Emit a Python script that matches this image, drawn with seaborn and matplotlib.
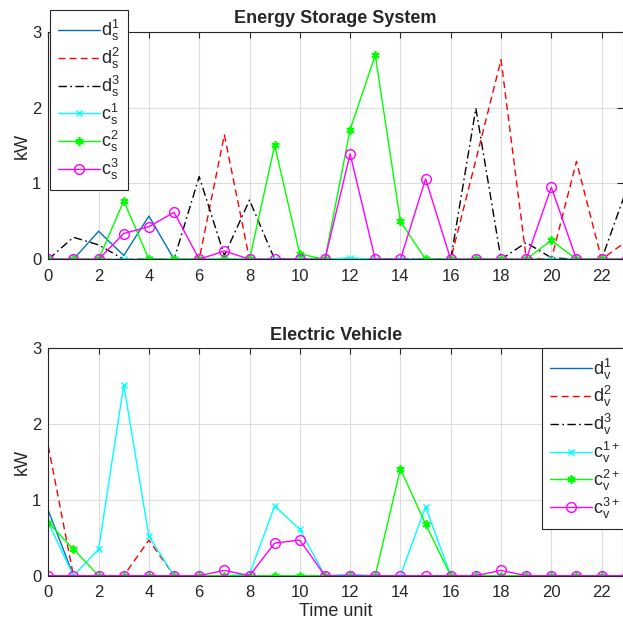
import numpy as np
import pandas as pd
import matplotlib
matplotlib.use("Agg")
import matplotlib.pyplot as plt
import seaborn as sns

# ---------------- data ----------------
t = list(range(24))

ds1 = [0, 0, 0.37, 0.05, 0.57, 0, 0, 0, 0, 0, 0, 0, 0, 0, 0, 0, 0, 0, 0, 0, 0, 0, 0, 0]
ds2 = [0, 0, 0, 0, 0, 0, 0, 1.64, 0, 0, 0, 0, 0, 0, 0, 0, 0, 1.31, 2.63, 0.02, 0, 1.29, 0, 0.24]
ds3 = [0, 0.29, 0.19, 0, 0, 0, 1.09, 0.05, 0.78, 0, 0, 0, 0, 0, 0, 0, 0, 1.99, 0, 0.22, 0.02, 0, 0, 0.93]
cs1 = [0, 0, 0, 0, 0, 0, 0, 0, 0, 0, 0, 0, 0.02, 0, 0, 0, 0, 0, 0, 0, 0, 0, 0, 0]
cs2 = [0, 0, 0, 0.77, 0, 0, 0, 0, 0, 1.50, 0.07, 0, 1.71, 2.69, 0.50, 0, 0, 0, 0, 0, 0.25, 0, 0, 0]
cs3 = [0, 0, 0, 0.34, 0.43, 0.62, 0, 0.11, 0, 0, 0, 0, 1.39, 0, 0, 1.06, 0, 0, 0, 0, 0.95, 0, 0, 0]

dv1 = [0.86, 0, 0, 0, 0, 0, 0, 0, 0, 0, 0, 0, 0, 0, 0, 0, 0, 0, 0, 0, 0, 0, 0, 0]
dv2 = [1.71, 0, 0, 0, 0.47, 0, 0, 0, 0, 0, 0, 0, 0, 0, 0, 0, 0, 0, 0, 0, 0, 0, 0, 0]
dv3 = [0, 0, 0, 0, 0, 0, 0, 0, 0, 0, 0, 0, 0, 0, 0, 0, 0, 0, 0, 0, 0, 0, 0, 0]
cv1 = [0.70, 0, 0.35, 2.52, 0.52, 0, 0, 0, 0.02, 0.92, 0.61, 0, 0.02, 0, 0, 0.91, 0, 0, 0, 0, 0, 0, 0, 0]
cv2 = [0.70, 0.35, 0, 0, 0, 0, 0, 0, 0, 0, 0, 0, 0, 0, 1.41, 0.68, 0, 0, 0, 0, 0, 0, 0, 0]
cv3 = [0, 0, 0, 0, 0, 0, 0, 0.07, 0, 0.43, 0.47, 0, 0, 0, 0, 0, 0, 0, 0.07, 0, 0, 0, 0, 0]

labels_s = [r"$\mathregular{d_s^1}$", r"$\mathregular{d_s^2}$", r"$\mathregular{d_s^3}$",
            r"$\mathregular{c_s^1}$", r"$\mathregular{c_s^2}$", r"$\mathregular{c_s^3}$"]
labels_v = [r"$\mathregular{d_v^1}$", r"$\mathregular{d_v^2}$", r"$\mathregular{d_v^3}$",
            r"$\mathregular{c_v^{1+}}$", r"$\mathregular{c_v^{2+}}$", r"$\mathregular{c_v^{3+}}$"]
xticks = list(range(0, 23, 2))
yticks = [0, 1, 2, 3]

# ---------------- style ----------------
sns.set_style("white")
plt.rcParams["font.family"] = ["Liberation Sans", "DejaVu Sans"]
plt.rcParams["mathtext.fontset"] = "custom"
plt.rcParams["mathtext.rm"] = "Liberation Sans"
plt.rcParams["mathtext.it"] = "Liberation Sans"

styles = [
    dict(color="#0072BD", ls="-", marker="None", ms=0, mew=0, mfc=None),
    dict(color="#ff0000", ls=(0, (5, 3)), marker="None", ms=0, mew=0, mfc=None),
    dict(color="#000000", ls=(0, (6, 2.5, 1.2, 2.5)), marker="None", ms=0, mew=0, mfc=None),
    dict(color="#00ffff", ls="-", marker="x", ms=5, mew=1.0, mfc=None),
    dict(color="#00ff00", ls="-", marker=(6, 2, 0), ms=6, mew=1.3, mfc=None),
    dict(color="#ff00ff", ls="-", marker="o", ms=7, mew=1.0, mfc="none"),
]

fig = plt.figure(figsize=(6.23, 6.24), dpi=100)
W, H = 623, 624
axA = fig.add_axes([48.3 / W, 1 - 259.3 / H, (623 - 48.3) / W, (259.3 - 31.7) / H])
axB = fig.add_axes([48.3 / W, 1 - 575.7 / H, (623 - 48.3) / W, (575.7 - 348.3) / H])

spine_c = "#262626"


def draw(ax, series, labels, title):
    for vals, lab, st in zip(series, labels, styles):
        n0 = len(ax.lines)
        sns.lineplot(x=t, y=vals, ax=ax, label=lab, estimator=None, sort=False,
                     color=st["color"], linewidth=1.0)
        ln = ax.lines[n0]
        ln.set_linestyle(st["ls"])
        ln.set_marker(st["marker"])
        if st["marker"] != "None":
            ln.set_markersize(st["ms"])
            ln.set_markeredgewidth(st["mew"])
            ln.set_markeredgecolor(st["color"])
            ln.set_markerfacecolor(st["mfc"] if st["mfc"] else st["color"])
    ax.set_xlim(0, 22.85)
    ax.set_ylim(0, 3)
    ax.set_xticks(xticks)
    ax.set_yticks(yticks)
    ax.grid(True, color="#dcdcdc", linewidth=0.8)
    ax.set_axisbelow(True)
    for s in ax.spines.values():
        s.set_visible(True)
        s.set_color(spine_c)
        s.set_linewidth(0.8)
    ax.tick_params(direction="in", length=4, width=0.8, colors=spine_c,
                   labelsize=12, top=True, right=True, labelcolor="#262626")
    ax.tick_params(axis="x", pad=7)
    ax.tick_params(axis="y", pad=5)
    ax.set_ylabel("kW", fontsize=13, color="#262626", labelpad=1)
    ax.set_title(title, fontsize=13, fontweight="bold", pad=6)
    if ax.get_legend() is not None:
        ax.get_legend().remove()


draw(axA, [ds1, ds2, ds3, cs1, cs2, cs3], labels_s, "Energy Storage System")
draw(axB, [dv1, dv2, dv3, cv1, cv2, cv3], labels_v, "Electric Vehicle")
axB.set_xlabel("Time unit", fontsize=13, color="#262626", labelpad=2)
axA.set_xlabel("")

common = dict(bbox_transform=fig.transFigure, borderaxespad=0, fontsize=13,
              handlelength=2.3, handletextpad=0.1, labelspacing=0.15,
              frameon=True, fancybox=False, framealpha=1, edgecolor=spine_c,
              borderpad=0.45)
legA = axA.legend(loc="upper left", bbox_to_anchor=(50 / W, 1 - 10 / H), **common)
legB = axB.legend(loc="upper left", bbox_to_anchor=(542 / W, 1 - 348.3 / H), **common)
for lg in (legA, legB):
    lg.get_frame().set_linewidth(0.8)

fig.savefig("out.png", dpi=100)
